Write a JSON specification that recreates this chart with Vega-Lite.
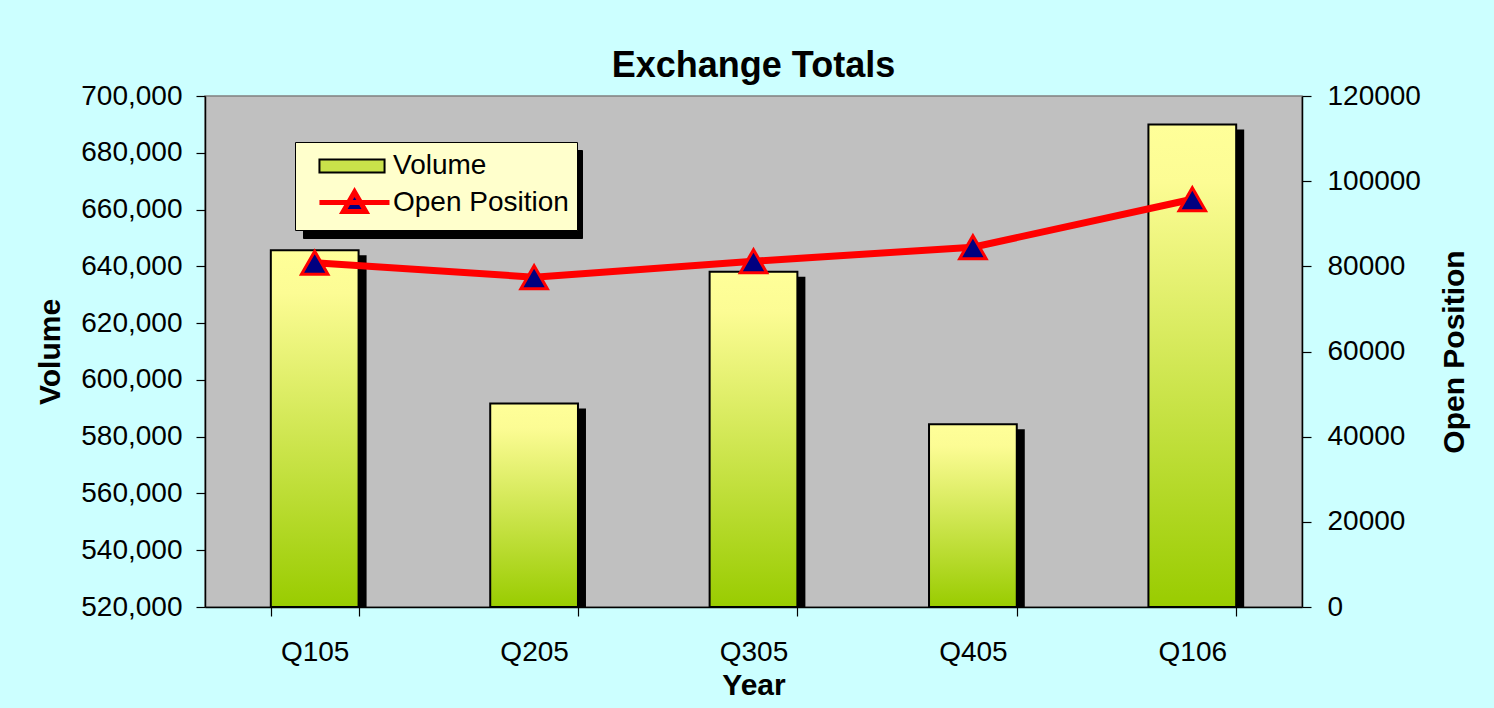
{
  "$schema": "https://vega.github.io/schema/vega-lite/v6.json",
  "autosize": {"type": "none"},
  "width": 1097,
  "height": 511,
  "padding": {"left": 205, "top": 96, "right": 192, "bottom": 101},
  "background": "#CCFFFF",
  "title": {
    "text": "Exchange Totals",
    "font": "Liberation Sans",
    "fontSize": 36,
    "fontWeight": "bold",
    "color": "#000000",
    "anchor": "middle",
    "frame": "group",
    "offset": -3
  },
  "config": {
    "view": {"fill": "#C0C0C0", "stroke": "#808080", "strokeWidth": 1.5},
    "axis": {
      "labelFont": "Liberation Sans",
      "labelFontSize": 28,
      "labelColor": "#000000",
      "titleFont": "Liberation Sans",
      "titleFontSize": 30,
      "titleFontWeight": "bold",
      "titleColor": "#000000",
      "domainColor": "#000000",
      "domainWidth": 1.5,
      "tickColor": "#000000",
      "tickWidth": 1.2,
      "tickSize": 9,
      "grid": false
    },
    "legend": {
      "labelFont": "Liberation Sans",
      "labelFontSize": 28,
      "labelColor": "#000000"
    }
  },
  "data": {
    "values": [
      {"Year": "Q105", "Volume": 645700, "Open Position": 80850},
      {"Year": "Q205", "Volume": 591700, "Open Position": 77450},
      {"Year": "Q305", "Volume": 638100, "Open Position": 81200},
      {"Year": "Q405", "Volume": 584400, "Open Position": 84500},
      {"Year": "Q106", "Volume": 690000, "Open Position": 95750}
    ]
  },
  "encoding": {
    "x": {
      "field": "Year",
      "type": "nominal",
      "sort": null,
      "scale": {"paddingInner": 0.6, "paddingOuter": 0.3},
      "axis": {
        "title": "Year",
        "labelAngle": 0,
        "tickBand": "extent",
        "labelPadding": 22,
        "titlePadding": 4
      }
    }
  },
  "layer": [
    {
      "encoding": {
        "y": {
          "field": "Volume",
          "type": "quantitative",
          "scale": {"domain": [520000, 700000], "zero": false, "nice": false},
          "axis": {
            "title": "Volume",
            "format": ",.0f",
            "values": [520000, 540000, 560000, 580000, 600000, 620000, 640000, 660000, 680000, 700000],
            "labelPadding": 14,
            "titlePadding": 15
          }
        },
        "y2": {"datum": 520000}
      },
      "layer": [
        {
          "mark": {"type": "bar", "color": "#000000", "xOffset": 8, "yOffset": 5, "clip": true}
        },
        {
          "mark": {
            "type": "bar",
            "clip": true,
            "stroke": "#000000",
            "strokeWidth": 2,
            "color": {
              "gradient": "linear",
              "x1": 0, "y1": 0, "x2": 0, "y2": 1,
              "stops": [
                {"offset": 0, "color": "#FFFF99"},
                {"offset": 0.12, "color": "#FCFC94"},
                {"offset": 1, "color": "#99CC00"}
              ]
            }
          }
        }
      ]
    },
    {
      "layer": [
        {
          "mark": {"type": "line", "color": "#FF0000", "strokeWidth": 7},
          "encoding": {
            "y": {
              "field": "Open Position",
              "type": "quantitative",
              "scale": {"domain": [0, 120000], "nice": false},
              "axis": {
                "orient": "right",
                "title": "Open Position",
                "format": "d",
                "values": [0, 20000, 40000, 60000, 80000, 100000, 120000],
                "labelPadding": 16,
                "titleAngle": 270,
                "titleBaseline": "top",
                "titlePadding": 19
              }
            }
          }
        },
        {
          "mark": {"type": "point", "shape": "triangle-up", "filled": true, "fill": "#000080", "stroke": "#FF0000", "strokeWidth": 3, "size": 700, "opacity": 1},
          "encoding": {
            "y": {"field": "Open Position", "type": "quantitative"}
          }
        },
        {
          "transform": [{"fold": ["Volume", "Open Position"], "as": ["series2", "val2"]}],
          "mark": {"type": "point", "opacity": 0},
          "encoding": {
            "size": {
              "field": "series2",
              "type": "nominal",
              "scale": {"domain": ["Open Position", "Volume"], "range": [900, 900]},
              "legend": {
                "title": null,
                "orient": "none",
                "legendX": 98,
                "legendY": 54,
                "zindex": 1,
                "padding": 8,
                "fillColor": "#000000",
                "strokeColor": "#000000",
                "labelOffset": 55,
                "labelLimit": 400,
                "rowPadding": 2,
                "symbolFillColor": "#000000",
                "symbolStrokeColor": "#000000"
              }
            }
          }
        },
        {
          "transform": [{"fold": ["Volume", "Open Position"], "as": ["series", "val"]}],
          "mark": {"type": "point", "opacity": 0, "filled": true},
          "encoding": {
            "fill": {
              "field": "series",
              "type": "nominal",
              "scale": {"domain": ["Volume", "Open Position"], "range": ["#C9E24A", "#000080"]},
              "legend": {
                "title": null, "orient": "none", "legendX": 90, "legendY": 46, "zindex": 2, "padding": 8,
                "fillColor": "#FFFFCC", "strokeColor": "#000000", "symbolSize": 900, "labelOffset": 55,
                "labelLimit": 400, "rowPadding": 2, "symbolOpacity": 1
              }
            },
            "stroke": {
              "field": "series",
              "type": "nominal",
              "scale": {"domain": ["Volume", "Open Position"], "range": ["#000000", "#FF0000"]},
              "legend": {
                "title": null, "orient": "none", "legendX": 90, "legendY": 46, "zindex": 2, "padding": 8,
                "fillColor": "#FFFFCC", "strokeColor": "#000000", "symbolSize": 900, "labelOffset": 55,
                "labelLimit": 400, "rowPadding": 2, "symbolOpacity": 1
              }
            },
            "shape": {
              "field": "series",
              "type": "nominal",
              "scale": {"domain": ["Volume", "Open Position"], "range": ["M-0.07,-0.43H4.27V0.43H-0.07Z", "M-0.07,0H4.6M2.27,-0.7L3.02,0.6H1.52Z"]},
              "legend": {
                "title": null, "orient": "none", "legendX": 90, "legendY": 46, "zindex": 2, "padding": 8,
                "fillColor": "#FFFFCC", "strokeColor": "#000000", "symbolSize": 900, "labelOffset": 55,
                "labelLimit": 400, "rowPadding": 2, "symbolOpacity": 1
              }
            },
            "strokeWidth": {
              "field": "series",
              "type": "nominal",
              "scale": {"domain": ["Volume", "Open Position"], "range": [2, 5]},
              "legend": {
                "title": null, "orient": "none", "legendX": 90, "legendY": 46, "zindex": 2, "padding": 8,
                "fillColor": "#FFFFCC", "strokeColor": "#000000", "symbolSize": 900, "labelOffset": 55,
                "labelLimit": 400, "rowPadding": 2, "symbolOpacity": 1
              }
            }
          }
        }
      ]
    }
  ],
  "resolve": {"scale": {"y": "independent"}}
}
